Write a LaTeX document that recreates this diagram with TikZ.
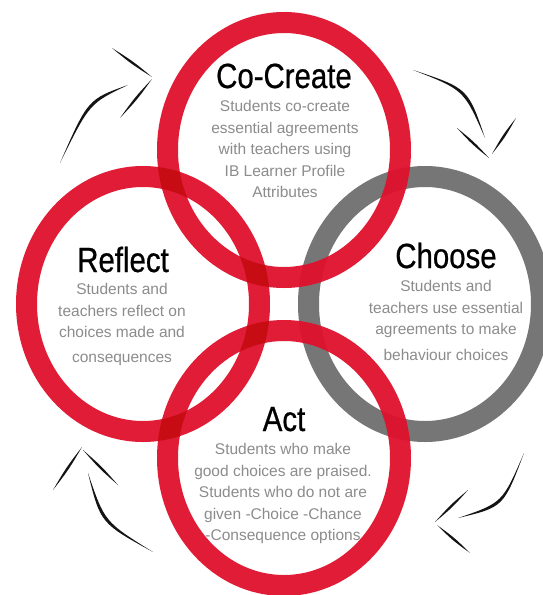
\documentclass[tikz,border=0pt]{standalone}
\usepackage{fontspec}
\setmainfont{Liberation Sans}
\newfontfamily\titlefont[FakeStretch=0.84, FakeBold=0.6]{Liberation Sans}
\usetikzlibrary{calc}
\definecolor{ringred}{RGB}{224,16,45}
\definecolor{ringgray}{RGB}{118,118,118}
\definecolor{bodygray}{RGB}{140,140,140}
\definecolor{ink}{RGB}{20,20,20}
% brush stroke: [width] start, bend, end
\newcommand{\brush}[4][2.2pt]{\fill[ink] #2 .. controls ($#3!#1!90:#4$) .. #4 .. controls ($#3!#1!-90:#4$) .. #2;}
\begin{document}
\begin{tikzpicture}[x=1pt, y=-1pt, line join=round, line cap=round,
    ring/.style={line width=21pt},
    title/.style={anchor=base, inner sep=0pt, text=black, font=\titlefont\fontsize{35}{35}\selectfont},
    body/.style={anchor=north, inner sep=0pt, align=center, text=bodygray, font=\fontsize{15.5}{21.6}\selectfont}]
    \def\rx{116.5} \def\ry{127.5} % ring radii
    \useasboundingbox (0,0) rectangle (543,595);
    \fill[white] (0,0) rectangle (543,595);
    \draw[ring, ringgray] (425,304) ellipse [x radius=\rx, y radius=\ry];
    \begin{scope}[transparency group, opacity=0.95]
        \draw[ring, ringred, blend mode=multiply] (284,150) ellipse [x radius=\rx, y radius=\ry];
        \draw[ring, ringred, blend mode=multiply] (143,304) ellipse [x radius=\rx, y radius=\ry];
        \draw[ring, ringred, blend mode=multiply] (284,458) ellipse [x radius=\rx, y radius=\ry];
    \end{scope}
    \node[title] (cocreate) at (284,88) {Co-Create};
    \node[body] (cocreatetext) at (285,100) {Students co-create\\essential agreements\\with teachers using\\IB Learner Profile\\Attributes};
    \node[title] (reflect) at (123,272) {Reflect};
    \node[body] (reflecttext) at (122,283) {Students and\\teachers reflect on\\choices made and\\[3pt]consequences};
    \node[title] (choose) at (446,268) {Choose};
    \node[body] (choosetext) at (446,280) {Students and\\teachers use essential\\agreements to make\\[4pt]behaviour choices};
    \node[title] (act) at (284,431) {Act};
    \node[body] (acttext) at (283,443) {Students who make\\good choices are praised.\\Students who do not are\\given -Choice -Chance\\-Consequence options};
    % arrows
    \brush{(60,163)}{(88.7,101.3)}{(128,85)}
    \brush[1.6pt]{(112,48)}{(132,62.5)}{(152,77)}
    \brush[1.6pt]{(152,79)}{(136,98.5)}{(120,118)}
    \brush{(413,70)}{(466,89)}{(485,138)}
    \brush[1.6pt]{(457,128)}{(473,143)}{(489,158)}
    \brush[1.6pt]{(492,154)}{(504,136)}{(516,118)}
    \brush{(153,552)}{(102.5,522.5)}{(88,473)}
    \brush[1.6pt]{(82,447)}{(67.5,468.5)}{(53,490)}
    \brush[1.6pt]{(83,450)}{(100.5,467.5)}{(118,485)}
    \brush{(524,453)}{(503,505)}{(458,518)}
    \brush[1.6pt]{(468,490)}{(451.5,506)}{(435,522)}
    \brush[1.6pt]{(437,525)}{(453.5,539)}{(470,553)}
\end{tikzpicture}
\end{document}
